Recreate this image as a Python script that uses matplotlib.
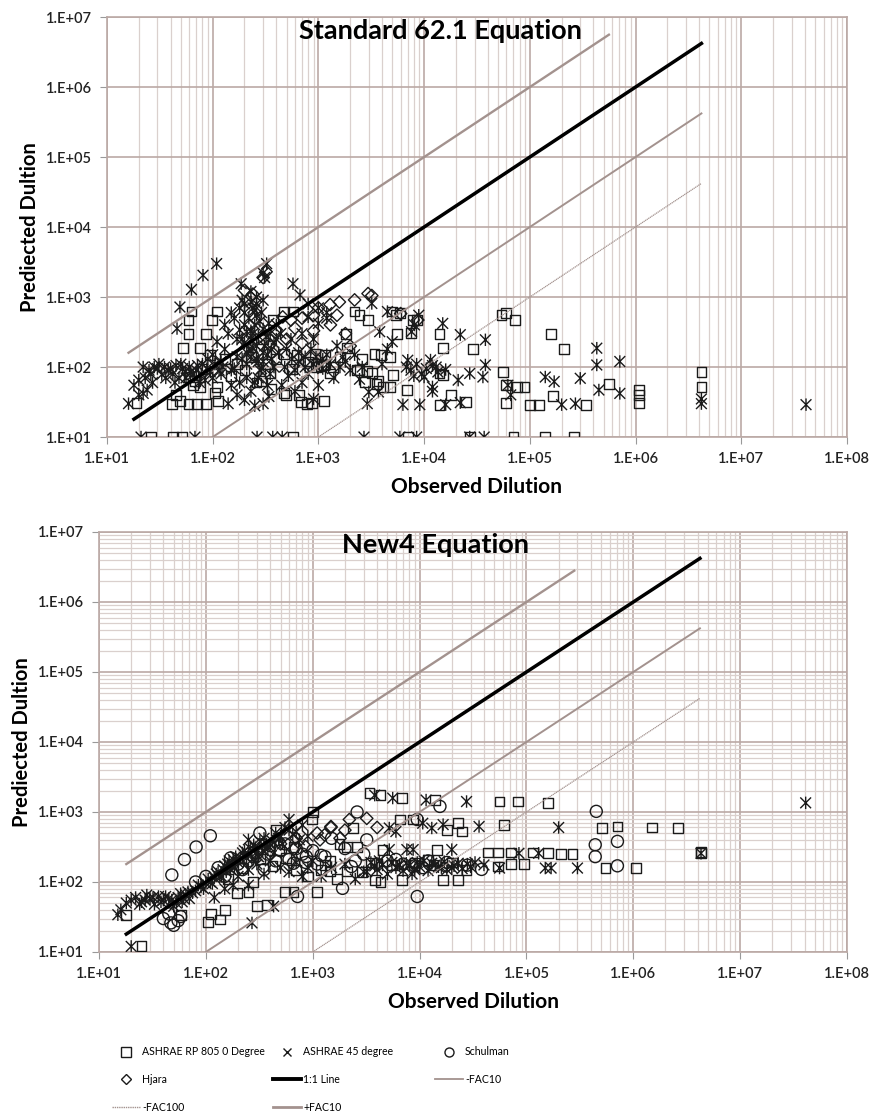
import numpy as np
import matplotlib
matplotlib.use('Agg')
import matplotlib.pyplot as plt
from matplotlib.path import Path
from matplotlib.ticker import FuncFormatter, FixedLocator, NullFormatter
from matplotlib.lines import Line2D

plt.rcParams['font.family'] = ['Lato', 'DejaVu Sans']

# ---------------- data: Standard 62.1 Equation (top) ----------------
top_sq_x = [26, 42, 51, 575, 7100, 2.7e4, 7e4, 1.4e5, 2.6e5,
            19, 41, 49, 59, 71, 87, 112, 76, 110, 105, 60, 68, 52, 76,
            63, 59, 59, 110, 98, 87, 470, 575, 370, 350, 290, 360, 470, 680, 780, 1120, 1290,
            470, 620, 930, 1150, 950, 1120, 1380, 1050, 490, 650, 870, 2450, 2750, 3550, 4100, 5100,
            1820, 2200, 2450, 2950, 1860, 3400, 3900, 4800, 5000, 5400, 5500,
            2300, 2900, 3700, 4800, 6900, 8600, 7500,
            5900, 7900, 1.4e4, 1.5e4, 2.9e4, 1.5e4, 1.8e4, 1.4e4, 2.5e4, 1.4e4,
            5.4e4, 6e4, 7.2e4, 1.6e5, 2.1e5,
            5.6e4, 5.9e4, 5.9e4, 7.6e4, 8.9e4, 1e5, 1.23e5, 1.66e5, 3.4e5, 5.6e5,
            1.07e6, 1.07e6, 1.07e6, 4.2e6, 4.2e6,
            45, 65, 80, 95, 130, 150, 170, 200, 230, 260, 300, 330, 400, 560, 800, 1600,
            2600, 3200]
top_sq_y = [10, 10, 10, 10, 10, 10, 10, 10, 10,
            31, 30, 33, 30, 30, 30, 33, 52, 52, 42, 72, 63, 185, 185,
            620, 470, 300, 620, 470, 300, 620, 620, 470, 81, 63, 48, 42, 32, 30, 33, 81,
            155, 148, 155, 148, 100, 107, 100, 104, 40, 40, 31, 91, 61, 58, 52, 77,
            300, 620, 550, 470, 185, 155, 148, 141, 620, 550, 300,
            91, 87, 63, 52, 47, 470, 310,
            590, 470, 300, 186, 182, 76, 40, 29, 32, 81,
            550, 590, 470, 300, 182,
            85, 55, 31, 52, 52, 29, 29, 39, 29, 58,
            47, 40, 31, 85, 52,
            40, 55, 95, 150, 130, 75, 110, 90, 140, 60, 250, 110, 130, 95, 120, 140,
            130, 82]

top_x45_x = [21, 68, 263, 370, 455, 2700, 5900, 8500, 2.7e4, 3.7e4,
             109, 81, 63, 49, 46, 324, 300, 310, 186, 230, 260, 200, 250, 300, 575, 670, 800,
             1000, 1200, 3200, 4500, 8900, 8100, 1.5e4, 2.2e4, 3.8e4, 5000, 3800, 7600,
             16, 20, 20, 22, 24, 26, 28, 30, 33, 35, 38, 42, 45, 48, 52, 55, 60, 65, 70, 75,
             80, 85, 90, 95, 22, 25,
             100, 110, 120, 130, 140, 150, 160, 170, 180, 190, 200, 210, 220, 230, 240, 250,
             260, 270, 280, 290, 300, 320, 340, 350, 360, 200, 250, 300, 230, 210, 150, 170,
             140, 120, 180, 160, 230, 270, 330, 380, 420, 230, 260, 200, 240,
             480, 520, 560, 600, 650, 700, 750, 800, 900, 1000, 1100, 1200, 1400, 1600, 450,
             600, 900, 700, 900, 1000, 1200, 800, 400, 1500, 1800, 2600, 3000, 3700, 2450,
             2900, 4500, 4000,
             6800, 7500, 8500, 9500, 1.05e4, 1.2e4, 1.35e4, 1.6e4, 1.15e4, 1e4, 8000, 7000,
             1.3e4, 6300, 9100, 1.2e4, 1.6e4, 2.1e4, 2.2e4, 1.2e4, 2.7e4, 3.6e4, 3.8e4,
             6.2e4, 6.6e4, 1.4e5, 1.7e5, 2e5, 2.7e5, 3e5, 4.3e5, 4.3e5, 7.1e5, 4.5e5, 7.1e5,
             4.2e6, 4.2e6, 4.1e7,
             130, 150, 170, 190, 200, 210, 220, 240, 250, 260, 270, 280, 290, 300, 310, 330,
             340, 260, 230, 210, 190, 180, 300, 350, 360, 380, 400, 440, 500, 550,
             18, 23, 27, 31, 36, 40, 44, 50, 56, 62, 72, 78, 88, 100, 105, 115, 125,
             650, 750, 850, 950, 1100, 1300, 1700, 2000, 2200]
top_x45_y = [10, 10, 10, 10, 10, 10, 10, 10, 10, 10,
             3000, 2050, 1280, 720, 355, 3000, 2200, 1900, 1550, 1200, 1000, 800, 650, 900,
             1550, 1070, 800,
             700, 500, 810, 620, 550, 400, 420, 290, 245, 230, 320, 320,
             30, 40, 65, 42, 47, 80, 100, 95, 78, 100, 90, 80, 105, 70, 95, 85, 100, 78, 90, 60,
             110, 65, 130, 85, 100, 90,
             150, 230, 120, 180, 300, 90, 500, 140, 700, 250, 400, 110, 180, 850, 300, 60,
             200, 120, 450, 95, 160, 270, 38, 80, 130, 34, 28, 30, 45, 70, 55, 40,
             30, 80, 60, 95, 140, 70, 55, 220, 160, 330, 550, 220, 190,
             100, 75, 130, 90, 120, 60, 140, 80, 110, 55, 95, 150, 70, 100, 55,
             45, 35, 300, 250, 420, 600, 520, 400, 200, 120, 100, 44, 44, 67,
             30, 180, 110,
             100, 90, 110, 80, 95, 105, 85, 92, 126, 72, 75, 125,
             100, 29, 29, 52, 29, 65, 31, 45, 81, 72, 107,
             55, 40, 72, 62, 29, 30, 69, 186, 107, 120, 47, 42,
             35, 30, 29,
             400, 600, 250, 900, 600, 320, 500, 700, 400, 130, 280, 90, 600, 350, 200, 150,
             420, 800, 250, 160, 130, 340, 120, 300, 180, 100, 250, 300, 180, 250,
             55, 70, 60, 110, 70, 95, 60, 110, 70, 85, 105, 80, 95, 70, 110, 90, 100,
             160, 100, 180, 140, 130, 110, 140, 90, 150]

top_hj_x = [2950, 3200, 2200, 1580, 1290, 320, 300, 200, 240, 500, 350, 240, 460, 550,
            700, 900, 1000, 1300, 1500, 1800, 900, 700, 8700, 6000, 2000, 400, 600]
top_hj_y = [1120, 1050, 910, 850, 780, 2300, 1900, 1250, 1100, 250, 210, 150, 520, 470,
            500, 550, 700, 400, 550, 300, 330, 220, 470, 580, 200, 340, 360]

# ---------------- data: New4 Equation (bottom) ----------------
bot_sq_x = [25, 18, 59, 105, 135, 112, 150, 195, 250, 300, 370, 275, 550, 660, 480, 660,
            560, 450, 1000, 980, 1100, 1200, 1450, 2100, 1450, 1780, 2100, 2600, 2400,
            3400, 4300, 6900, 6500, 8700, 4500, 3800, 4300, 6800,
            1.4e4, 5.6e4, 8.3e4, 1.6e5, 6.2e4, 2.3e4, 2.5e4, 1.8e4,
            5.1e5, 7.1e5, 1.5e6, 2.6e6, 4.3e6, 4.3e6, 5.5e5, 1.05e6,
            1.45e4, 4.4e4, 5.4e4, 7.2e4, 1.15e5, 1.6e5, 2.1e5, 2.7e5,
            7.2e4, 9.5e4, 5.4e4, 2.75e4, 1.66e4, 2.3e4, 1.35e4,
            160, 220, 320, 420, 700, 900, 1300, 1700, 2900, 3500, 5500, 9000, 1.2e4, 2e4]
bot_sq_y = [12, 34, 34, 27, 29, 35, 40, 69, 72, 45, 47, 100, 72, 72, 290, 320,
            220, 550, 1000, 780, 72, 148, 141, 141, 200, 350, 320, 320, 590,
            1860, 1740, 1580, 780, 780, 290, 107, 100, 107,
            1480, 1410, 1410, 1350, 660, 690, 525, 550,
            590, 620, 600, 590, 257, 270, 158, 158,
            290, 263, 263, 263, 263, 257, 251, 251,
            182, 182, 166, 148, 107, 107, 174,
            110, 160, 210, 170, 150, 120, 175, 110, 140, 190, 175, 190, 205, 190]

bot_x45_x = [20, 15, 3800, 5600, 1.15e4, 2.75e4, 1.66e4, 1.07e4, 3.6e4, 2e5, 4.1e7, 4.3e6,
             2e4, 8700, 8.5e4, 1.3e5, 3e5, 1.5e5, 1.7e5, 5.6e4, 5200, 6000, 5200, 7600,
             600, 250, 270, 430, 1.3e4,
             3200, 4000, 5000, 6000, 7000, 8000, 9000, 1e4, 1.2e4, 1.4e4, 1.6e4, 1.8e4,
             2.1e4, 2.5e4, 2.8e4, 1.1e4, 8500, 4500, 3500,
             16, 18, 20, 22, 25, 28, 30, 33, 36, 40, 45, 50, 55, 60, 65, 70, 75,
             80, 90, 100, 110, 120, 130, 140, 150, 160, 170, 180, 190, 200, 220, 240, 260,
             280, 300, 320, 350, 380, 400, 450, 500, 550, 600, 700, 800,
             150, 200, 250, 300, 350, 400, 500, 600, 700, 800, 900, 1000, 1200, 1500, 2000,
             2500, 3000, 120, 180, 250,
             24, 27, 32, 38, 42, 48, 53, 58, 62, 68, 85, 95, 105, 115, 125, 135, 145, 155,
             165, 175, 185, 210, 230, 250, 270, 290, 310, 340, 370, 420, 480, 520, 650, 750, 900,
             3800, 4200, 5500, 6500, 7500, 9500, 1.3e4, 1.5e4, 1.7e4, 2e4, 2.3e4, 3e4, 3.3e4, 4e4]
bot_x45_y = [12, 34, 1740, 1580, 1480, 1410, 660, 690, 620, 600, 1350, 257,
             290, 290, 257, 257, 158, 158, 158, 158, 590, 525, 290, 290,
             780, 400, 26, 45, 590,
             140, 150, 130, 160, 145, 170, 150, 165, 145, 175, 160, 150,
             170, 155, 180, 200, 130, 175, 190,
             40, 50, 55, 60, 52, 65, 58, 48, 62, 55, 58, 45, 60, 52, 65, 58, 70,
             75, 85, 95, 100, 115, 140, 120, 170, 180, 150, 210, 230, 190, 260, 220, 300,
             340, 270, 380, 420, 300, 350, 500, 450, 600, 550, 520, 650,
             80, 120, 150, 180, 130, 200, 160, 140, 190, 120, 160, 200, 120, 160, 180,
             110, 140, 60, 90, 90,
             48, 55, 60, 52, 62, 55, 50, 68, 58, 72, 90, 80, 110, 95, 130, 120, 150, 140,
             200, 170, 160, 220, 280, 250, 210, 310, 230, 280, 350, 380, 420, 350, 480, 400, 450,
             170, 200, 190, 175, 185, 190, 185, 165, 195, 160, 185, 165, 190, 175]

bot_sc_x = [48, 63, 81, 110, 320, 2600, 1.55e4, 3200, 1200, 860, 660, 870, 1000, 2300,
            720, 1900, 9500, 4.5e5, 7.1e5, 4.4e5, 4.4e5, 7.1e5, 3.8e4, 9500, 2.8e4, 1.07e4,
            40, 47, 50, 55, 58, 45,
            200, 300, 400, 500, 150, 250, 350, 600, 700, 1500, 2000, 3000, 5000, 7000,
            1.2e4, 1.8e4,
            80, 100, 130, 170, 220, 280, 380, 450, 550, 800, 1100, 1300, 2500, 4000, 6000, 9000]
bot_sc_y = [126, 209, 316, 457, 500, 1000, 1200, 400, 240, 190, 185, 230, 280, 166,
            62, 81, 62, 1020, 380, 340, 230, 170, 151, 780, 174, 160,
            30, 26, 24, 28, 32, 35,
            180, 260, 330, 280, 120, 200, 150, 210, 300, 420, 300, 250, 200, 180,
            200, 190,
            100, 120, 160, 220, 150, 230, 250, 200, 350, 250, 180, 230, 200, 180, 210, 170]

bot_hj_x = [2200, 3200, 660, 1170, 1290, 1480, 1480, 860, 1100, 500, 400, 2000, 4000, 1800, 700]
bot_hj_y = [780, 810, 290, 400, 470, 620, 600, 320, 500, 350, 280, 550, 600, 420, 420]

# reference lines: (x start, x end), (y start, y end)
top_one_x, top_one_y = [18, 4.2e6], [18, 4.2e6]
top_pfac10_x, top_pfac10_y = [16, 5.6e5], [160, 5.6e6]
top_mfac10_x, top_mfac10_y = [100, 4.2e6], [10, 4.2e5]
top_mfac100_x, top_mfac100_y = [1000, 4.2e6], [10, 4.2e4]

bot_one_x, bot_one_y = [18, 4.2e6], [18, 4.2e6]
bot_pfac10_x, bot_pfac10_y = [18, 2.8e5], [180, 2.8e6]
bot_mfac10_x, bot_mfac10_y = [100, 4.2e6], [10, 4.2e5]
bot_mfac100_x, bot_mfac100_y = [1000, 4.2e6], [10, 4.2e4]

x_decades = [1e1, 1e2, 1e3, 1e4, 1e5, 1e6, 1e7, 1e8]
y_decades = [1e1, 1e2, 1e3, 1e4, 1e5, 1e6, 1e7]

# ---------------- styling ----------------
star = Path([(-1, -1), (1, 1), (-1, 1), (1, -1), (0, -1.15), (0, 1.15)],
            [Path.MOVETO, Path.LINETO, Path.MOVETO, Path.LINETO, Path.MOVETO, Path.LINETO])
fac_col = '#a3928e'
major_col = '#bba9a5'
minor_col = '#dad0cd'
fmt = FuncFormatter(lambda v, _: '1.E+%02d' % int(round(np.log10(v))))


def minors(decades):
    return [d * k for d in decades[:-1] for k in range(2, 10)]


fig = plt.figure(figsize=(8.71, 11.16), dpi=100)
ax1 = fig.add_axes([0.1228, 0.6084, 0.8496, 0.3763])
ax2 = fig.add_axes([0.1137, 0.1470, 0.8588, 0.3763])


def setup(ax, minor_y):
    ax.set_xscale('log')
    ax.set_yscale('log')
    ax.set_xlim(10, 1e8)
    ax.set_ylim(10, 1e7)
    ax.xaxis.set_major_locator(FixedLocator(x_decades))
    ax.yaxis.set_major_locator(FixedLocator(y_decades))
    ax.xaxis.set_minor_locator(FixedLocator(minors(x_decades)))
    ax.yaxis.set_minor_locator(FixedLocator(minors(y_decades)))
    ax.xaxis.set_major_formatter(fmt)
    ax.yaxis.set_major_formatter(fmt)
    ax.xaxis.set_minor_formatter(NullFormatter())
    ax.yaxis.set_minor_formatter(NullFormatter())
    ax.grid(True, which='major', color=major_col, lw=1.2, zorder=0)
    ax.grid(True, which='minor', axis='x', color=minor_col, lw=0.9, zorder=0)
    if minor_y:
        ax.grid(True, which='minor', axis='y', color=minor_col, lw=0.9, zorder=0)
    ax.set_axisbelow(True)
    for s in ax.spines.values():
        s.set_color(major_col)
        s.set_linewidth(1.2)
    ax.tick_params(which='major', length=5, color='#999999', labelsize=10.5,
                   labelcolor='#222222')
    ax.tick_params(axis='x', which='major', pad=6)
    ax.tick_params(axis='y', which='major', pad=6)
    ax.tick_params(which='minor', length=0)
    for lab in ax.get_xticklabels() + ax.get_yticklabels():
        lab.set_fontweight('semibold')
    ax.set_xlabel('Observed Dilution', fontsize=15, fontweight='bold', labelpad=8)
    ax.set_ylabel('Prediected Dultion', fontsize=14.5, fontweight='bold', labelpad=4)


mk = dict(facecolors='none', edgecolors='#1a1a1a', linewidths=1.0, zorder=3)

setup(ax1, False)
ax1.scatter(top_sq_x, top_sq_y, marker='s', s=50, **mk)
ax1.scatter(top_x45_x, top_x45_y, marker=star, s=80, **mk)
ax1.scatter(top_hj_x, top_hj_y, marker='D', s=40, **mk)
ax1.plot(top_pfac10_x, top_pfac10_y, color=fac_col, lw=1.7, zorder=4)
ax1.plot(top_mfac10_x, top_mfac10_y, color=fac_col, lw=1.4, zorder=4)
ax1.plot(top_mfac100_x, top_mfac100_y, color=fac_col, lw=0.9, ls=(0, (1, 0.5)), zorder=4)
ax1.plot(top_one_x, top_one_y, color='black', lw=2.5, zorder=5)
ax1.text(0.45, 0.966, 'Standard 62.1 Equation', transform=ax1.transAxes, ha='center',
         va='center', fontsize=19.5, fontweight='bold')

setup(ax2, True)
ax2.scatter(bot_sq_x, bot_sq_y, marker='s', s=50, **mk)
ax2.scatter(bot_x45_x, bot_x45_y, marker=star, s=80, **mk)
ax2.scatter(bot_sc_x, bot_sc_y, marker='o', s=75, **mk)
ax2.scatter(bot_hj_x, bot_hj_y, marker='D', s=40, **mk)
ax2.plot(bot_pfac10_x, bot_pfac10_y, color=fac_col, lw=1.7, zorder=4)
ax2.plot(bot_mfac10_x, bot_mfac10_y, color=fac_col, lw=1.4, zorder=4)
ax2.plot(bot_mfac100_x, bot_mfac100_y, color=fac_col, lw=0.9, ls=(0, (1, 0.5)), zorder=4)
ax2.plot(bot_one_x, bot_one_y, color='black', lw=2.5, zorder=5)
ax2.text(0.45, 0.968, 'New4 Equation', transform=ax2.transAxes, ha='center',
         va='center', fontsize=19.5, fontweight='bold')

# ---------------- legend (three columns placed by hand) ----------------
h_sq = Line2D([], [], ls='none', marker='s', ms=6.5, mfc='none', mec='#1a1a1a', mew=1.0)
h_hj = Line2D([], [], ls='none', marker='D', ms=5, mfc='none', mec='#1a1a1a', mew=1.0)
h_m100 = Line2D([], [], color=fac_col, lw=1.0, ls=(0, (1, 0.6)))
h_x45 = Line2D([], [], ls='none', marker='x', ms=6, mec='#1a1a1a', mew=1.0)
h_one = Line2D([], [], color='black', lw=2.8)
h_p10 = Line2D([], [], color=fac_col, lw=2.0)
h_sc = Line2D([], [], ls='none', marker='o', ms=6.5, mfc='none', mec='#1a1a1a', mew=1.0)
h_m10 = Line2D([], [], color=fac_col, lw=1.3)

cols = [([h_sq, h_hj, h_m100], ['ASHRAE RP 805 0 Degree', 'Hjara', '-FAC100'], 0.1286),
        ([h_x45, h_one, h_p10], ['ASHRAE 45 degree', '1:1 Line', '+FAC10'], 0.3134),
        ([h_sc, h_m10], ['Schulman', '-FAC10'], 0.4994)]
for hs, ls, xa in cols:
    fig.legend(hs, ls, loc='upper left', bbox_to_anchor=(xa, 0.0625), frameon=False,
               borderpad=0, borderaxespad=0, fontsize=7.6, handlelength=2.65,
               handletextpad=0.2, labelspacing=1.6)

fig.savefig('out.png', dpi=100)
